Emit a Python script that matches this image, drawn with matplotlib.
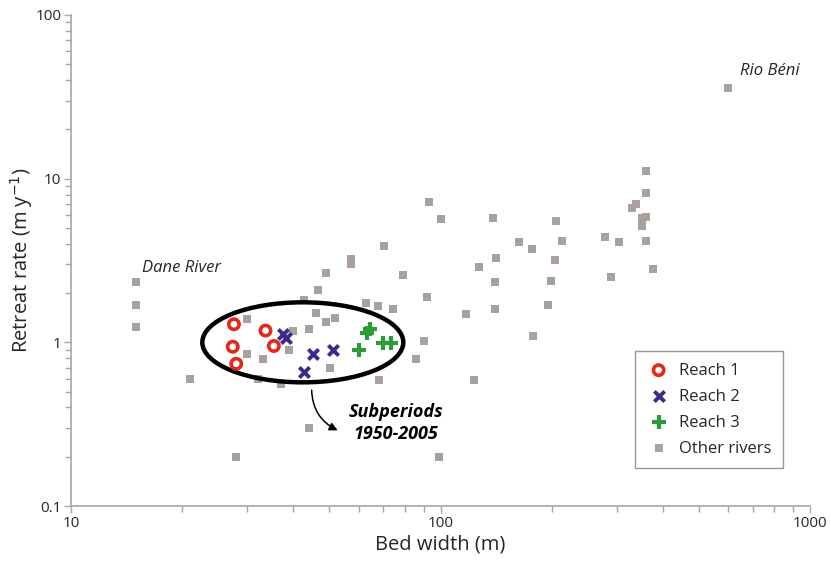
import matplotlib
matplotlib.use("Agg")
import matplotlib.pyplot as plt
from matplotlib.patches import Ellipse
from matplotlib.ticker import FixedLocator, LogLocator, NullFormatter

plt.rcParams['font.family'] = ['Open Sans', 'DejaVu Sans']

# Reach data (bed width m, retreat rate m/y)
reach1_w = [27.6, 27.4, 28.0, 33.6, 35.4]
reach1_r = [1.29, 0.94, 0.74, 1.18, 0.95]
reach2_w = [37.5, 38.2, 45.1, 42.7, 51.3]
reach2_r = [1.12, 1.07, 0.85, 0.66, 0.90]
reach3_w = [63.4, 64.6, 60.1, 69.8, 73.6]
reach3_r = [1.14, 1.20, 0.90, 0.99, 0.99]

# other rivers
other_w = [15.0, 15.0, 15.0, 21.0, 28.0, 30.0, 30.0, 33.0, 32.0, 37.0,
           39.0, 39.8, 44.0, 42.8, 45.9, 46.5, 44.0, 93.1, 100.4, 70.3,
           57.1, 57.1, 49.1, 79.0, 49.1, 51.9, 63.0, 67.9, 74.3, 92.1,
           50.1, 68.1, 90.2, 86.0, 99.3, 117, 123, 127, 139, 141,
           140.6, 140.6, 163.5, 176.6, 205.4, 213, 204.6, 199.5, 195.5, 178.4,
           278.6, 305, 289, 361, 361, 337.8, 328.8, 361, 350.7, 350.7,
           361, 375.7, 601]
other_r = [2.33, 1.69, 1.24, 0.60, 0.20, 1.39, 0.85, 0.79, 0.60, 0.56,
           0.90, 1.18, 1.20, 1.81, 1.52, 2.08, 0.30, 7.23, 5.69, 3.89,
           3.21, 2.99, 2.64, 2.58, 1.34, 1.40, 1.73, 1.67, 1.59, 1.88,
           0.70, 0.59, 1.02, 0.79, 0.20, 1.49, 0.59, 2.9, 5.77, 3.29,
           2.33, 1.6, 4.08, 3.70, 5.48, 4.14, 3.18, 2.38, 1.69, 1.10,
           4.42, 4.12, 2.5, 11.2, 8.17, 7.0, 6.59, 5.8, 5.72, 5.13,
           4.18, 2.79, 35.9]

axis_col = '#a6a6a6'
text_col = '#262626'

fig = plt.figure(figsize=(8.31, 5.63), dpi=100)
ax = fig.add_axes([71/831, 57/563, 739/831, 491/563])

ax.scatter(other_w, other_r, marker='s', s=40, color='#aaa19c', linewidths=0,
           label='Other rivers', zorder=2)
ax.scatter(reach1_w, reach1_r, marker='o', s=55, facecolors='none',
           edgecolors='#e3281e', linewidths=2.6, label='Reach 1', zorder=4)
ax.scatter(reach2_w, reach2_r, marker='x', s=55, color='#3f2a8c',
           linewidths=2.8, label='Reach 2', zorder=4)
ax.scatter(reach3_w, reach3_r, marker='+', s=110, color='#2d9a3c',
           linewidths=3.0, label='Reach 3', zorder=4)

ax.set_xscale('log')
ax.set_yscale('log')
ax.set_xlim(10, 1000)
ax.set_ylim(0.1, 100)

ax.xaxis.set_major_locator(FixedLocator([10, 100, 1000]))
ax.yaxis.set_major_locator(FixedLocator([0.1, 1, 10, 100]))
ax.set_xticklabels(['10', '100', '1000'])
ax.set_yticklabels(['0.1', '1', '10', '100'])
ax.xaxis.set_minor_locator(LogLocator(base=10, subs=range(2, 10)))
ax.yaxis.set_minor_locator(LogLocator(base=10, subs=range(2, 10)))
ax.xaxis.set_minor_formatter(NullFormatter())
ax.yaxis.set_minor_formatter(NullFormatter())

for s in ['top', 'right']:
    ax.spines[s].set_visible(False)
for s in ['left', 'bottom']:
    ax.spines[s].set_color(axis_col)
    ax.spines[s].set_linewidth(1.2)
ax.tick_params(which='major', length=5, width=1, color=axis_col,
               labelsize=11, labelcolor=text_col, pad=2)
ax.tick_params(which='minor', length=4, width=1, color=axis_col)

ax.set_xlabel('Bed width (m)', fontsize=14.5, color=text_col, labelpad=3)
ax.set_ylabel('Retreat rate (m y$^{-1}$)', fontsize=14.5, color=text_col,
              labelpad=0)

# ellipse around the reach points, drawn in axes fraction
cx, cy = ax.transAxes.inverted().transform(ax.transData.transform((42.4, 1.0)))
ell = Ellipse((cx, cy), 0.272, 0.163, transform=ax.transAxes, fill=False,
              edgecolor='black', linewidth=3.2, zorder=3)
ax.add_patch(ell)

ax.annotate('', xy=(52.7, 0.29), xytext=(44.8, 0.51),
            arrowprops=dict(arrowstyle='-|>', color='black', lw=1.1,
                            connectionstyle='arc3,rad=0.3',
                            mutation_scale=12, shrinkA=0, shrinkB=0))
ax.text(0.44, 0.169, 'Subperiods\n1950-2005', transform=ax.transAxes,
        fontsize=13, fontweight='bold', fontstyle='italic', ha='center',
        va='center', color='black', linespacing=1.25)

ax.text(15.6, 2.55, 'Dane River', fontsize=12, fontstyle='italic',
        color=text_col, va='bottom', ha='left')
ax.text(645, 40.5, 'Rio Béni', fontsize=12, fontstyle='italic',
        color=text_col, va='bottom', ha='left')

handles, labels = ax.get_legend_handles_labels()
order = [1, 2, 3, 0]
leg = ax.legend([handles[i] for i in order], [labels[i] for i in order],
                loc='lower right', bbox_to_anchor=(0.963, 0.077), fontsize=12,
                frameon=True, fancybox=False, edgecolor='#7f7f7f',
                handletextpad=0.5, labelspacing=0.6, borderpad=0.7,
                handlelength=1.4, borderaxespad=0)
leg.get_frame().set_linewidth(1.0)
for t in leg.get_texts():
    t.set_color(text_col)

fig.savefig('out.png', dpi=100)
